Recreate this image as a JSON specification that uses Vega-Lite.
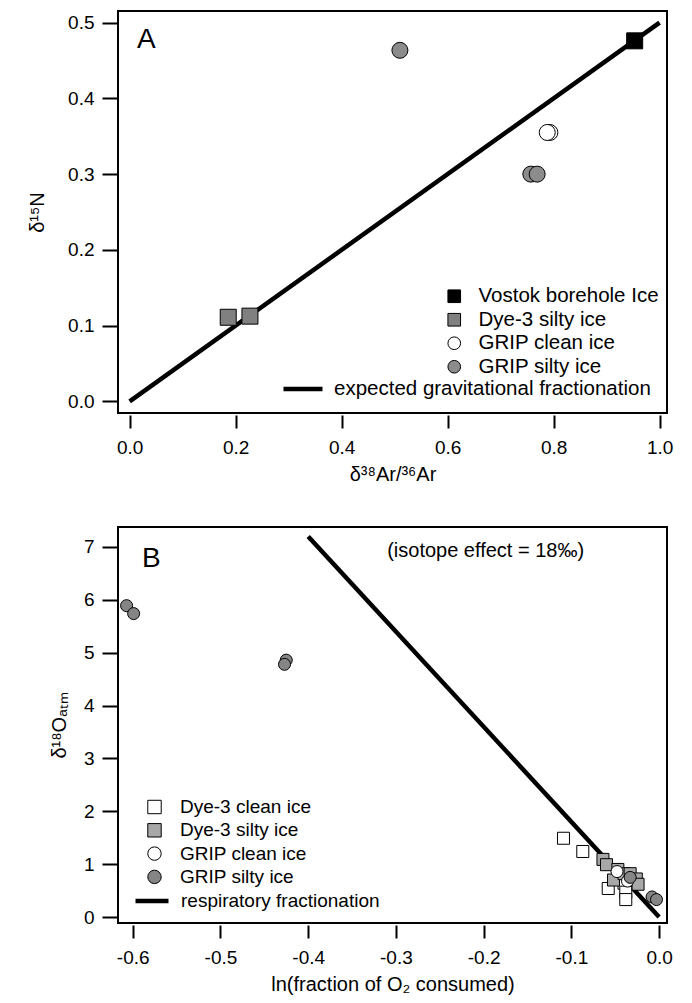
{
  "$schema": "https://vega.github.io/schema/vega-lite/v6.json",
  "padding": {"left": 26, "top": 10, "right": 5, "bottom": 5},
  "spacing": 41,
  "background": "white",
  "resolve": {
    "scale": {"shape": "independent", "fill": "independent", "stroke": "independent"},
    "legend": {"shape": "independent", "fill": "independent", "stroke": "independent"}
  },
  "config": {
    "font": "Liberation Sans",
    "view": {"stroke": "black", "strokeWidth": 2},
    "axis": {
      "domain": false, "grid": false, "ticks": true,
      "tickColor": "black", "tickWidth": 2,
      "labelFont": "Liberation Sans", "labelFontSize": 19, "labelColor": "black",
      "titleFont": "Liberation Sans", "titleFontSize": 20, "titleFontWeight": "normal", "titleColor": "black"
    },
    "axisX": {"offset": 2, "tickSize": 13, "labelPadding": 10, "titlePadding": 7},
    "axisY": {"tickSize": 16, "labelPadding": 8},
    "legend": {"labelLimit": 0}
  },
  "vconcat": [
    {
      "width": 549,
      "height": 402,
      "layer": [
        {
          "data": {"values": [
            {"x": 0.0, "y": 0.0, "fit": "expected gravitational fractionation"},
            {"x": 1.0, "y": 0.5, "fit": "expected gravitational fractionation"}
          ]},
          "mark": {"type": "line", "strokeWidth": 4.5, "clip": true},
          "encoding": {
            "x": {"field": "x", "type": "quantitative",
                  "scale": {"domain": [-0.022, 1.014], "nice": false, "zero": false},
                  "axis": {"title": "δ³⁸Ar/³⁶Ar", "values": [0, 0.2, 0.4, 0.6, 0.8, 1.0], "format": ".1f"}},
            "y": {"field": "y", "type": "quantitative",
                  "scale": {"domain": [-0.0154, 0.5154], "nice": false, "zero": false},
                  "axis": {"title": "δ¹⁵N", "values": [0, 0.1, 0.2, 0.3, 0.4, 0.5], "format": ".1f", "titlePadding": 20}},
            "stroke": {"field": "fit", "type": "nominal", "scale": {"range": ["black"]},
                       "legend": {"title": null, "orient": "none", "direction": "vertical", "legendX": 163, "legendY": 356,
                                  "symbolType": "stroke", "symbolSize": 1521, "symbolStrokeWidth": 4.5, "symbolStrokeColor": "black",
                                  "labelFontSize": 20.5, "labelColor": "black", "labelOffset": 9, "labelLimit": 0, "padding": 0}}
          }
        },
        {
          "data": {"values": [
            {"x": 0.953, "y": 0.476, "series": "Vostok borehole Ice"},
            {"x": 0.186, "y": 0.111, "series": "Dye-3 silty ice"},
            {"x": 0.227, "y": 0.1125, "series": "Dye-3 silty ice"},
            {"x": 0.793, "y": 0.355, "series": "GRIP clean ice"},
            {"x": 0.788, "y": 0.355, "series": "GRIP clean ice"},
            {"x": 0.510, "y": 0.4635, "series": "GRIP silty ice"},
            {"x": 0.757, "y": 0.300, "series": "GRIP silty ice"},
            {"x": 0.769, "y": 0.300, "series": "GRIP silty ice"}
          ]},
          "mark": {"type": "point", "filled": true, "stroke": "black", "strokeWidth": 1, "opacity": 1, "size": 256},
          "encoding": {
            "x": {"field": "x", "type": "quantitative", "scale": {"domain": [-0.022, 1.014], "nice": false, "zero": false}},
            "y": {"field": "y", "type": "quantitative", "scale": {"domain": [-0.0154, 0.5154], "nice": false, "zero": false}},
            "shape": {"field": "series", "type": "nominal",
                      "scale": {"domain": ["Vostok borehole Ice", "Dye-3 silty ice", "GRIP clean ice", "GRIP silty ice"],
                                "range": ["square", "square", "circle", "circle"]},
                      "legend": {"title": null, "orient": "none", "direction": "vertical", "legendX": 326, "legendY": 275,
                                 "symbolSize": 160, "symbolStrokeColor": "black", "symbolStrokeWidth": 1, "symbolOpacity": 1,
                                 "labelFontSize": 20.5, "labelColor": "black", "labelOffset": 14, "labelLimit": 0, "rowPadding": 2.5, "padding": 0,
                                 "encode": {"symbols": {"update": {"stroke": {"value": "black"}, "strokeWidth": {"value": 1}}}}}},
            "fill": {"field": "series", "type": "nominal",
                     "scale": {"domain": ["Vostok borehole Ice", "Dye-3 silty ice", "GRIP clean ice", "GRIP silty ice"],
                               "range": ["#000000", "#808080", "#ffffff", "#8c8c8c"]},
                     "legend": {"title": null, "orient": "none", "direction": "vertical", "legendX": 326, "legendY": 275,
                                "symbolSize": 160, "symbolStrokeColor": "black", "symbolStrokeWidth": 1, "symbolOpacity": 1,
                                "labelFontSize": 20.5, "labelColor": "black", "labelOffset": 14, "labelLimit": 0, "rowPadding": 2.5, "padding": 0,
                                "encode": {"symbols": {"update": {"stroke": {"value": "black"}, "strokeWidth": {"value": 1}}}}}}
          }
        },
        {
          "data": {"values": [{"label": "A"}]},
          "mark": {"type": "text", "fontSize": 28, "align": "left", "baseline": "alphabetic", "color": "black"},
          "encoding": {
            "x": {"datum": 0.014, "type": "quantitative"},
            "y": {"datum": 0.467, "type": "quantitative"},
            "text": {"field": "label"}
          }
        }
      ]
    },
    {
      "width": 549,
      "height": 396,
      "layer": [
        {
          "data": {"values": [
            {"x": -0.4, "y": 7.2, "fit": "respiratory fractionation"},
            {"x": 0.0, "y": 0.0, "fit": "respiratory fractionation"}
          ]},
          "mark": {"type": "line", "strokeWidth": 4.5, "clip": true},
          "encoding": {
            "x": {"field": "x", "type": "quantitative",
                  "scale": {"domain": [-0.6168, 0.009], "nice": false, "zero": false},
                  "axis": {"title": "ln(fraction of O₂ consumed)", "values": [-0.6, -0.5, -0.4, -0.3, -0.2, -0.1, 0.0],
                           "labelExpr": "replace(format(datum.value, '.1f'), '−', '-')"}},
            "y": {"field": "y", "type": "quantitative",
                  "scale": {"domain": [-0.113, 7.378], "nice": false, "zero": false},
                  "axis": {"title": "δ¹⁸Oₐₜₘ", "values": [0, 1, 2, 3, 4, 5, 6, 7], "format": "d", "titlePadding": 14}},
            "stroke": {"field": "fit", "type": "nominal", "scale": {"range": ["black"]},
                       "legend": {"title": null, "orient": "none", "direction": "vertical", "legendX": 15, "legendY": 355,
                                  "symbolType": "stroke", "symbolSize": 1089, "symbolStrokeWidth": 4.5, "symbolStrokeColor": "black",
                                  "labelFontSize": 19, "labelColor": "black", "labelOffset": 10, "labelLimit": 0, "padding": 0}}
          }
        },
        {
          "data": {"values": [
            {"x": -0.109, "y": 1.49, "series": "Dye-3 clean ice"},
            {"x": -0.087, "y": 1.24, "series": "Dye-3 clean ice"},
            {"x": -0.058, "y": 0.54, "series": "Dye-3 clean ice"},
            {"x": -0.040, "y": 0.64, "series": "Dye-3 clean ice"},
            {"x": -0.038, "y": 0.47, "series": "Dye-3 clean ice"},
            {"x": -0.038, "y": 0.33, "series": "Dye-3 clean ice"},
            {"x": -0.064, "y": 1.09, "series": "Dye-3 silty ice"},
            {"x": -0.060, "y": 0.99, "series": "Dye-3 silty ice"},
            {"x": -0.047, "y": 0.90, "series": "Dye-3 silty ice"},
            {"x": -0.052, "y": 0.70, "series": "Dye-3 silty ice"},
            {"x": -0.040, "y": 0.82, "series": "Dye-3 silty ice"},
            {"x": -0.033, "y": 0.82, "series": "Dye-3 silty ice"},
            {"x": -0.026, "y": 0.72, "series": "Dye-3 silty ice"},
            {"x": -0.024, "y": 0.62, "series": "Dye-3 silty ice"},
            {"x": -0.048, "y": 0.86, "series": "GRIP clean ice"},
            {"x": -0.036, "y": 0.68, "series": "GRIP clean ice"},
            {"x": -0.607, "y": 5.89, "series": "GRIP silty ice"},
            {"x": -0.599, "y": 5.74, "series": "GRIP silty ice"},
            {"x": -0.425, "y": 4.86, "series": "GRIP silty ice"},
            {"x": -0.427, "y": 4.78, "series": "GRIP silty ice"},
            {"x": -0.033, "y": 0.75, "series": "GRIP silty ice"},
            {"x": -0.008, "y": 0.38, "series": "GRIP silty ice"},
            {"x": -0.003, "y": 0.33, "series": "GRIP silty ice"}
          ]},
          "mark": {"type": "point", "filled": true, "stroke": "black", "strokeWidth": 1, "opacity": 1, "size": 144},
          "encoding": {
            "x": {"field": "x", "type": "quantitative", "scale": {"domain": [-0.6168, 0.009], "nice": false, "zero": false}},
            "y": {"field": "y", "type": "quantitative", "scale": {"domain": [-0.113, 7.378], "nice": false, "zero": false}},
            "shape": {"field": "series", "type": "nominal",
                      "scale": {"domain": ["Dye-3 clean ice", "Dye-3 silty ice", "GRIP clean ice", "GRIP silty ice"],
                                "range": ["square", "square", "circle", "circle"]},
                      "legend": {"title": null, "orient": "none", "direction": "vertical", "legendX": 27, "legendY": 270.5,
                                 "symbolSize": 180, "symbolStrokeColor": "black", "symbolStrokeWidth": 1, "symbolOpacity": 1,
                                 "labelFontSize": 19, "labelColor": "black", "labelOffset": 16, "labelLimit": 0, "rowPadding": 3.3, "padding": 0,
                                 "encode": {"symbols": {"update": {"stroke": {"value": "black"}, "strokeWidth": {"value": 1}}}}}},
            "fill": {"field": "series", "type": "nominal",
                     "scale": {"domain": ["Dye-3 clean ice", "Dye-3 silty ice", "GRIP clean ice", "GRIP silty ice"],
                               "range": ["#ffffff", "#a8a8a8", "#ffffff", "#858585"]},
                     "legend": {"title": null, "orient": "none", "direction": "vertical", "legendX": 27, "legendY": 270.5,
                                "symbolSize": 180, "symbolStrokeColor": "black", "symbolStrokeWidth": 1, "symbolOpacity": 1,
                                "labelFontSize": 19, "labelColor": "black", "labelOffset": 16, "labelLimit": 0, "rowPadding": 3.3, "padding": 0,
                                "encode": {"symbols": {"update": {"stroke": {"value": "black"}, "strokeWidth": {"value": 1}}}}}}
          }
        },
        {
          "data": {"values": [{"label": "B"}]},
          "mark": {"type": "text", "fontSize": 28, "align": "left", "baseline": "alphabetic", "color": "black"},
          "encoding": {
            "x": {"datum": -0.5895, "type": "quantitative"},
            "y": {"datum": 6.63, "type": "quantitative"},
            "text": {"field": "label"}
          }
        },
        {
          "data": {"values": [{"label": "(isotope effect = 18‰)"}]},
          "mark": {"type": "text", "fontSize": 20, "align": "left", "baseline": "middle", "color": "black"},
          "encoding": {
            "x": {"datum": -0.31, "type": "quantitative"},
            "y": {"datum": 6.92, "type": "quantitative"},
            "text": {"field": "label"}
          }
        }
      ]
    }
  ]
}
